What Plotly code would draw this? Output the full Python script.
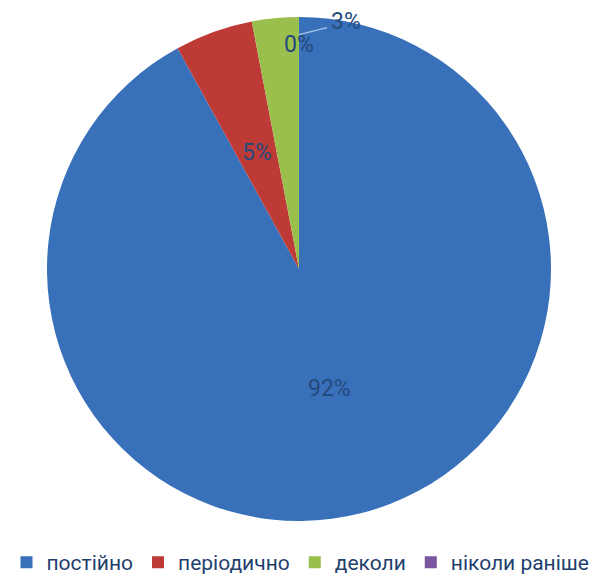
import math
import plotly.graph_objects as go

categories = ["постійно", "періодично", "деколи", "ніколи раніше"]
values = [92, 5, 3, 0]
colors = ["#3870BA", "#BE3A37", "#9ABF4C", "#7A55A0"]
label_text = ["92%", "5%", "3%", "0%"]

W, H = 601, 583
# pie box in pixels
BX0, BX1, BY0, BY1 = 0, 598, 17, 521
CX, CY = (BX0 + BX1) / 2, (BY0 + BY1) / 2
R = min(BX1 - BX0, BY1 - BY0) / 2
TXT = "#254A7C"
FONT = "Roboto"


def to_paper(px, py):
    return px / W, 1 - py / H


def polar(frac, rfrac):
    a = 2 * math.pi * frac
    return CX + R * rfrac * math.sin(a), CY - R * rfrac * math.cos(a)


fig = go.Figure(go.Pie(
    labels=categories, values=values, sort=False, direction="clockwise",
    rotation=0, marker=dict(colors=colors, line=dict(width=0)),
    textinfo="none", hoverinfo="label+percent", showlegend=True,
    domain=dict(x=[BX0 / W, BX1 / W], y=[1 - BY1 / H, 1 - BY0 / H]),
))

total = sum(values)
cum = 0
annotations = []
for i, v in enumerate(values):
    mid = (cum + v / 2) / total
    cum += v
    if i < 2:
        px, py = polar(mid, 0.49)
    elif i == 3:
        px, py = polar(mid, 0.89)
    else:
        continue
    x, y = to_paper(px, py)
    annotations.append(dict(x=x, y=y, xref="paper", yref="paper", text=label_text[i],
                            xanchor="center", yanchor="middle",
                            showarrow=False, font=dict(size=23, color=TXT, family=FONT)))

# outside label for the small green slice with leader line
sx, sy = polar(1.0, 0.93)
ex, ey = sx + 28, sy - 7
x0, y0 = to_paper(sx, sy)
x1, y1 = to_paper(ex, ey)
shapes = [dict(type="line", xref="paper", yref="paper", x0=x0, y0=y0, x1=x1, y1=y1,
               line=dict(color="#A9C2E2", width=1.5))]
lx, ly = to_paper(ex + 2, ey - 6)
annotations.append(dict(x=lx, y=ly, xref="paper", yref="paper", text=label_text[2],
                        xanchor="left", yanchor="middle", showarrow=False,
                        font=dict(size=23, color=TXT, family=FONT)))

fig.update_layout(
    width=W, height=H,
    margin=dict(l=0, r=0, t=0, b=0),
    paper_bgcolor="white", plot_bgcolor="white",
    annotations=annotations, shapes=shapes,
    legend=dict(orientation="h", x=0.5, xanchor="center", y=0, yanchor="bottom",
                font=dict(size=21, color="#1F3F6E", family=FONT), itemwidth=30,
                traceorder="normal"),
    font=dict(family=FONT),
)

fig.write_html("out.html", config={"displayModeBar": False},
               post_script="document.body.style.margin='0';")
